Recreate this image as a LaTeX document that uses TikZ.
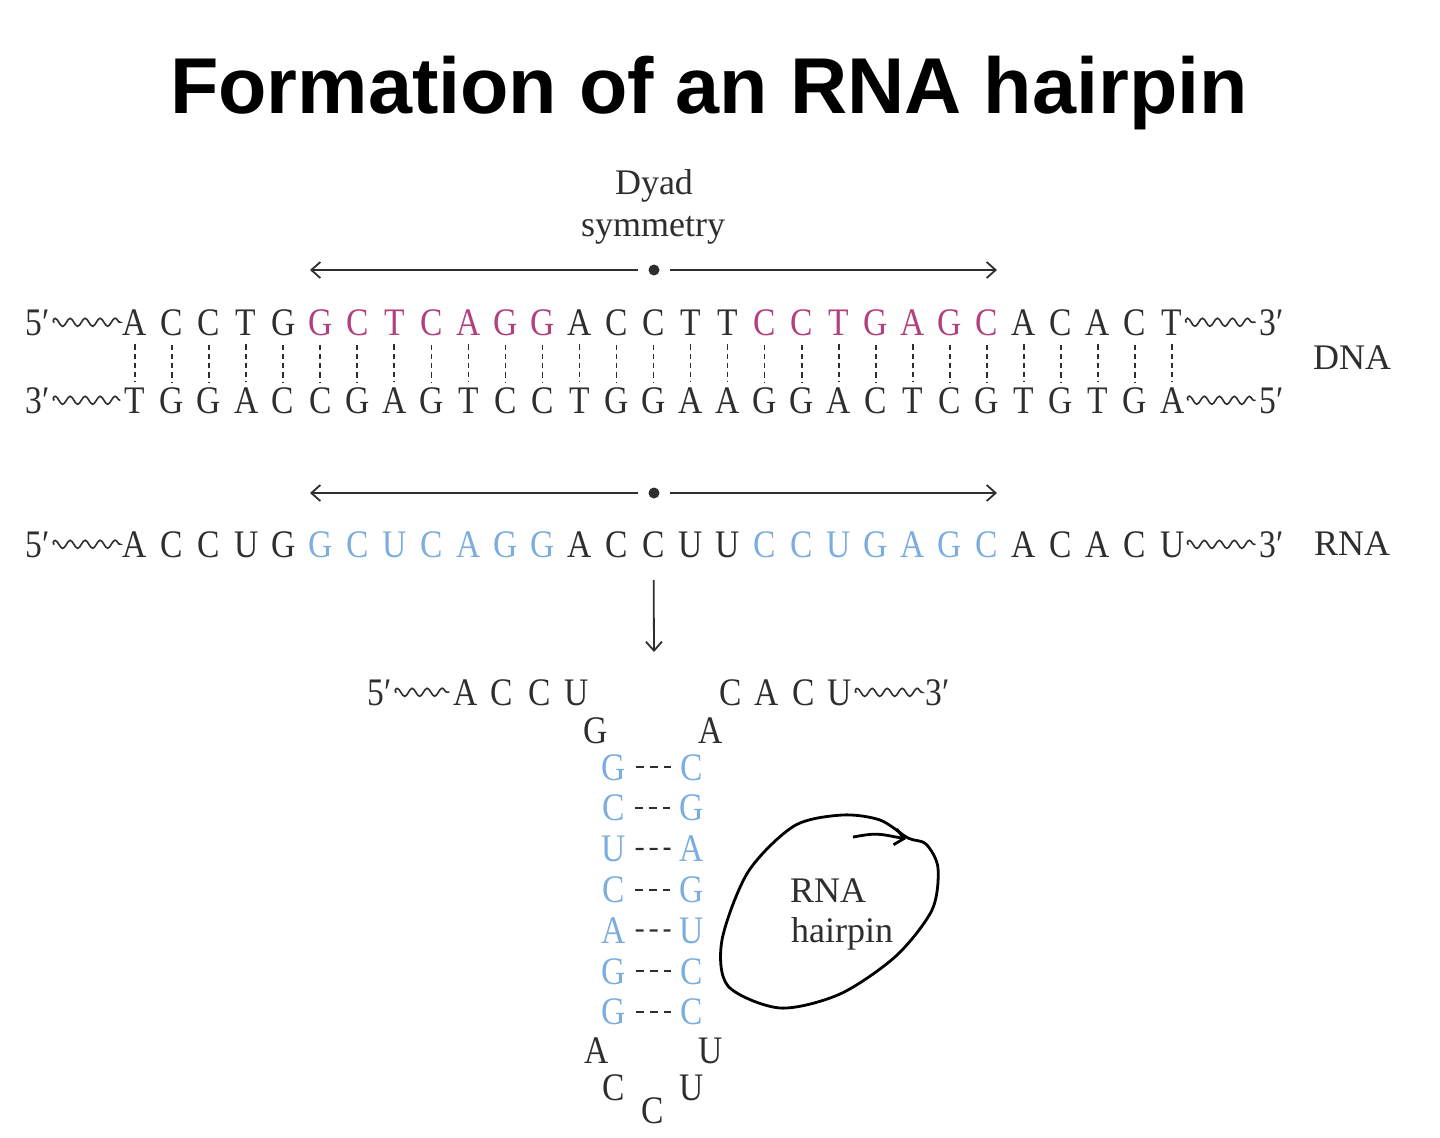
\documentclass[tikz,border=0pt]{standalone}
\usepackage{fontspec}
\setmainfont{Liberation Serif}
\newfontfamily\titlefont{Liberation Sans}
\newfontfamily\seqfont[FakeStretch=0.86]{Liberation Serif}
\usetikzlibrary{decorations.pathmorphing, arrows.meta}
\definecolor{ink}{HTML}{2E2E2E}
\definecolor{palind}{HTML}{B2407E}
\definecolor{rnablue}{HTML}{7CADDF}

\begin{document}
\begin{tikzpicture}
            [every node/.style={inner sep=0pt},
             >={Straight Barb[length=4.5pt, width=8pt]},
             nt/.style={font=\seqfont\fontsize{19.5}{19.5}\selectfont, text=ink, anchor=base},
             tag/.style={font=\fontsize{18}{18}\selectfont, text=ink},
             hbond/.style={ink, line width=0.8pt, dash pattern=on 2.6pt off 2pt, shorten <=4.5pt, shorten >=2.5pt},
             stembond/.style={ink, line width=1.1pt, dash pattern=on 4pt off 3pt, shorten <=4.5pt, shorten >=4.5pt},
             squig/.style={ink, line width=0.8pt, decorate, decoration={snake, amplitude=2pt, segment length=7.5pt}, shorten <=2pt, shorten >=2pt},
             arr/.style={ink, line width=0.9pt, ->}]
                \useasboundingbox (0pt, 0pt) rectangle (720pt, -568.5pt);
                \node (title) [font=\titlefont\bfseries\fontsize{39.6}{40}\selectfont, anchor=base] at (354.5pt, -56.5pt) {Formation of an RNA hairpin};
                \node (dyad) [tag] at (327pt, -93pt) {Dyad};
                \node (sym) [tag] at (326.5pt, -115pt) {symmetry};
                % axis above the DNA
                \node (dot1) [circle, fill=ink, minimum size=5.5pt] at (327pt, -135pt) {};
                \coordinate (left1) at (155pt, -135pt);
                \coordinate (right1) at (498.5pt, -135pt);
                \draw [arr, shorten <=5pt] (dot1) -- (left1);
                \draw [arr, shorten <=5pt] (dot1) -- (right1);
                % DNA, top strand
                \node (t0) [nt] at (19pt, -167.5pt) {5′};
                \foreach \b [count=\i] in {A,C,C,T,G,G,C,T,C,A,G,G,A,C,C,T,T,C,C,T,G,A,G,C,A,C,A,C,T} {
                    \pgfmathtruncatemacro\pal{(\i>5)*(\i<13)+(\i>17)*(\i<25)}
                    \ifnum\pal=1 \colorlet{hue}{palind}\else\colorlet{hue}{ink}\fi
                    \node (t\i) [nt, text=hue] at ({67.5pt+18.52pt*(\i-1)}, -167.5pt) {\b};
                }
                \node (t30) [nt] at (636pt, -167.5pt) {3′};
                \draw [squig] (t0.east) -- (t1.west);
                \draw [squig] (t29.east) -- (t30.west);
                % DNA, bottom strand
                \node (b0) [nt] at (19pt, -206.5pt) {3′};
                \foreach \b [count=\i] in {T,G,G,A,C,C,G,A,G,T,C,C,T,G,G,A,A,G,G,A,C,T,C,G,T,G,T,G,A} {
                    \node (b\i) [nt] at ({67.5pt+18.52pt*(\i-1)}, -206.5pt) {\b};
                    \draw [hbond] (t\i) -- (b\i);
                }
                \node (b30) [nt] at (636pt, -206.5pt) {5′};
                \draw [squig] (b0.east) -- (b1.west);
                \draw [squig] (b29.east) -- (b30.west);
                \node (dna) [tag] at (676pt, -179pt) {DNA};
                % axis above the RNA
                \node (dot2) [circle, fill=ink, minimum size=5.5pt] at (327pt, -246.5pt) {};
                \coordinate (left2) at (155pt, -246.5pt);
                \coordinate (right2) at (498.5pt, -246.5pt);
                \draw [arr, shorten <=5pt] (dot2) -- (left2);
                \draw [arr, shorten <=5pt] (dot2) -- (right2);
                % RNA transcript
                \node (r0) [nt] at (19pt, -278.5pt) {5′};
                \foreach \b [count=\i] in {A,C,C,U,G,G,C,U,C,A,G,G,A,C,C,U,U,C,C,U,G,A,G,C,A,C,A,C,U} {
                    \pgfmathtruncatemacro\pal{(\i>5)*(\i<13)+(\i>17)*(\i<25)}
                    \ifnum\pal=1 \colorlet{hue}{rnablue}\else\colorlet{hue}{ink}\fi
                    \node (r\i) [nt, text=hue] at ({67.5pt+18.52pt*(\i-1)}, -278.5pt) {\b};
                }
                \node (r30) [nt] at (636pt, -278.5pt) {3′};
                \draw [squig] (r0.east) -- (r1.west);
                \draw [squig] (r29.east) -- (r30.west);
                \node (rna) [tag] at (676pt, -272pt) {RNA};
                \coordinate (fold) at (327pt, -326pt);
                \draw [arr, shorten <=11pt] (r15.south) -- (fold);
                % hairpin
                \node (h0) [nt] at (190pt, -352.5pt) {5′};
                \node (h1) [nt] at (233pt, -352.5pt) {A};
                \node (h2) [nt] at (251pt, -352.5pt) {C};
                \node (h3) [nt] at (270pt, -352.5pt) {C};
                \node (h4) [nt] at (288.5pt, -352.5pt) {U};
                \node (h5) [nt] at (298pt, -371.5pt) {G};
                \draw [squig] (h0.east) -- (h1.west);
                \node (k5) [nt] at (355.5pt, -371.5pt) {A};
                \node (k4) [nt] at (365.5pt, -352.5pt) {C};
                \node (k3) [nt] at (383.5pt, -352.5pt) {A};
                \node (k2) [nt] at (402pt, -352.5pt) {C};
                \node (k1) [nt] at (420pt, -352.5pt) {U};
                \node (k0) [nt] at (469pt, -352.5pt) {3′};
                \draw [squig] (k1.east) -- (k0.west);
                \foreach \l/\r [count=\k] in {G/C, C/G, U/A, C/G, A/U, G/C, G/C} {
                    \node (sl\k) [nt, text=rnablue] at (307pt, {-390pt-20.4pt*(\k-1)}) {\l};
                    \node (sr\k) [nt, text=rnablue] at (346pt, {-390pt-20.4pt*(\k-1)}) {\r};
                    \draw [stembond] (sl\k.east) -- (sr\k.west);
                }
                \node (p1) [nt] at (298.5pt, -531.5pt) {A};
                \node (p2) [nt] at (307pt, -550pt) {C};
                \node (p3) [nt] at (326.5pt, -561.5pt) {C};
                \node (p4) [nt] at (346pt, -550pt) {U};
                \node (p5) [nt] at (355.5pt, -531.5pt) {U};
                % ring round the label
                \node (loop1) [tag] at (414pt, -445.5pt) {RNA};
                \node (loop2) [tag] at (421pt, -467pt) {hairpin};
                \draw [line width=1.4pt, black] plot [smooth cycle] coordinates {(454pt, -419pt) (440pt, -410pt) (421pt, -407.5pt) (397pt, -413pt) (374pt, -436pt) (361pt, -470pt) (364pt, -493pt) (390pt, -504pt) (420pt, -497pt) (448pt, -478pt) (466pt, -455pt) (469pt, -434pt) (463pt, -422pt)};
                \draw [line width=1.4pt, black, ->] (426.5pt, -418.5pt) .. controls (438pt, -416.5pt) .. (453pt, -419.5pt);
            \end{tikzpicture}
\end{document}
